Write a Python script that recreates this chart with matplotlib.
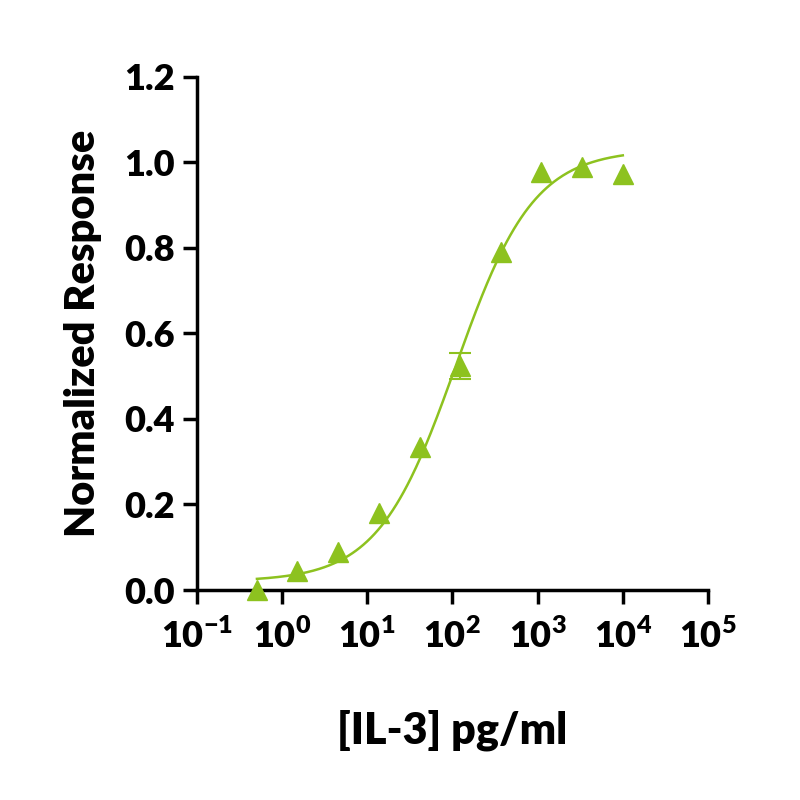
import matplotlib.pyplot as plt
import numpy as np
from matplotlib.ticker import FixedLocator, NullLocator

# Data
conc = [0.508, 1.52, 4.57, 13.7, 41.2, 123, 370, 1111, 3333, 10000]
response = [0.0, 0.044, 0.09, 0.18, 0.335, 0.524, 0.79, 0.978, 0.99, 0.973]
err = [0, 0, 0, 0, 0, 0.03, 0, 0, 0, 0]

# 4PL fit parameters (estimated from the drawn curve)
bottom, top, ec50, hill = 0.02, 1.03, 110, 0.95

green = '#8DC21F'
plt.rcParams['font.family'] = 'Lato'
plt.rcParams['font.weight'] = 'heavy'
plt.rcParams['axes.unicode_minus'] = False
plt.rcParams['mathtext.fontset'] = 'custom'
plt.rcParams['mathtext.rm'] = 'Lato:heavy'
plt.rcParams['mathtext.bf'] = 'Lato:heavy'

fig = plt.figure(figsize=(8, 8), dpi=100)
ax = fig.add_axes([0.246, 0.2625, 0.639, 0.6415])

xs = np.logspace(np.log10(conc[0]), np.log10(conc[-1]), 300)
ys = bottom + (top - bottom) / (1 + (ec50 / xs) ** hill)
ax.plot(xs, ys, color=green, lw=1.8)
ax.plot(conc, response, '^', color=green, ms=14, clip_on=False, zorder=3)
with_err = [i for i, e in enumerate(err) if e > 0]
ax.errorbar([conc[i] for i in with_err], [response[i] for i in with_err],
            yerr=[err[i] for i in with_err], fmt='none', ecolor=green,
            capsize=8, elinewidth=1.5, capthick=1.5)

ax.set_xscale('log')
ax.set_xlim(0.1, 1e5)
ax.set_ylim(0, 1.2)
ax.xaxis.set_major_locator(FixedLocator([10.0 ** k for k in range(-1, 6)]))
ax.xaxis.set_minor_locator(NullLocator())
ax.set_xticklabels([f'10$^{{\\mathrm{{{k}}}}}$' for k in range(-1, 6)])
ax.set_yticks(np.arange(0, 1.21, 0.2))
ax.set_yticklabels([f'{v:.1f}' for v in np.arange(0, 1.21, 0.2)])

for s in ['top', 'right']:
    ax.spines[s].set_visible(False)
for s in ['left', 'bottom']:
    ax.spines[s].set_linewidth(2.5)
ax.tick_params(width=2.5, length=10, labelsize=26, pad=6)
ax.tick_params(axis='x', pad=10)

ax.set_xlabel('[IL-3] pg/ml', fontsize=31, fontweight='heavy', labelpad=40)
ax.set_ylabel('Normalized Response', fontsize=30, fontweight='heavy', labelpad=16)

plt.savefig('out.png')
